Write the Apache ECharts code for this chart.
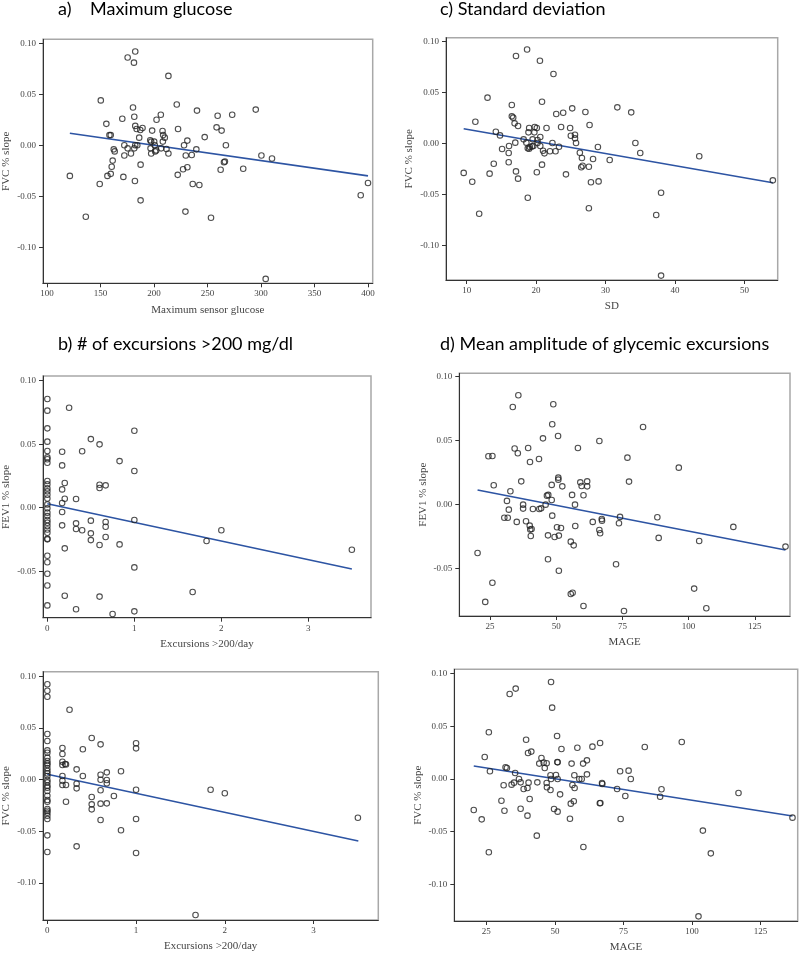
<!DOCTYPE html>
<html><head><meta charset="utf-8">
<script src="https://cdn.jsdelivr.net/npm/echarts@6/dist/echarts.min.js"></script>
<style>html,body{margin:0;padding:0;background:#fff}#c{width:800px;height:954px}</style>
</head><body><div id="c"></div><script>
// ---- a) Maximum glucose vs FVC % slope
var aX = [121.4,136.3,150.3,149.3,155.5,156.5,158.4,159.6,159.6,160.5,
  161.4,162.4,163.3,170.4,171.4,172.3,172.3,175.4,175.4,178.5,
  180.4,181.3,181.6,182.5,182.5,182.2,181.6,182.5,183.8,184.4,
  186.2,187.2,187.5,187.5,189.3,196.5,196.8,197.4,198.3,197.4,
  200.2,200.8,201.1,202.4,202.1,206.4,206.7,208.0,208.6,208.3,
  210.1,211.7,213.5,213.5,221.3,222.5,222.2,227.2,228.1,229.4,
  229.7,231.2,231.2,235.3,236.2,239.6,240.2,242.4,247.4,253.3,
  258.5,259.5,262.3,263.2,265.4,266.3,267.2,273.1,283.4,295.1,
  300.4,304.4,310.3,393.2,400.0];
var aY = [-0.030,-0.070,0.044,-0.038,0.021,-0.030,0.010,0.010,-0.028,-0.021,
  -0.015,-0.004,-0.006,0.026,-0.031,0.000,-0.010,0.086,-0.003,-0.008,
  0.037,0.081,0.028,0.092,0.019,-0.035,-0.003,0.000,0.016,0.000,
  0.0075,0.015,-0.019,-0.054,0.017,0.005,-0.003,0.0036,0.0144,-0.008,
  0.0036,0,-0.006,0.025,-0.005,0.030,-0.003,0.014,0.010,0.0036,
  0.0075,-0.0036,0.068,-0.008,0.040,0.016,-0.029,-0.0235,0,-0.065,
  -0.010,0.0046,-0.0216,-0.0095,-0.038,-0.004,0.034,-0.039,0.008,-0.071,
  0.0176,0.029,-0.024,0.0144,-0.0167,-0.016,0,0.030,-0.023,0.035,
  -0.010,-0.131,-0.013,-0.049,-0.037];
var aFitX = [121.4, 400];
var aFitY = [0.0118, -0.030];

// ---- c) Standard deviation vs FVC % slope
var cX = [9.57,10.8,11.25,11.8,13.0,13.3,13.9,14.2,14.8,15.1,
  16.05,16.1,16.05,16.5,16.5,16.7,16.9,17.0,17.1,17.1,
  17.4,17.4,18.2,18.6,18.7,18.8,18.9,19.0,18.8,19.0,
  19.1,19.4,19.5,19.6,19.75,19.8,20.1,20.1,20.2,20.2,
  20.55,20.6,20.6,20.85,20.85,21.0,21.2,21.5,22.0,22.35,
  22.5,22.8,22.9,23.3,23.6,23.9,24.3,24.9,25.0,25.2,
  25.6,25.6,25.75,26.3,26.5,26.6,26.7,27.1,27.6,27.6,
  27.7,27.9,28.2,28.9,29.0,30.6,31.7,33.7,34.3,35.0,
  37.3,38.0,38.0,43.5,54.1];
var cY = [-0.029,-0.0376,0.0212,-0.069,0.0448,-0.0297,-0.020,0.0114,0.0078,-0.0056,
  -0.0095,-0.0026,-0.0186,0.0376,0.0265,0.0252,0.0196,0.0007,0.0856,-0.0275,
  0.017,-0.0346,0.0039,0.0007,0.092,-0.0533,0.0108,0.015,-0.0049,-0.0052,
  -0.0036,-0.003,0.0039,-0.0026,0.0108,0.016,0.015,-0.0284,0.0033,0.0003,
  0.081,0.0062,-0.0026,0.0408,-0.0209,-0.0072,-0.0098,0.015,-0.0078,0.0003,
  0.068,-0.0078,0.0288,-0.0033,0.016,0.030,-0.0304,0.015,0.0075,0.0343,
  0.0085,0.0049,0.0003,-0.0092,-0.0235,-0.0144,-0.0219,0.0307,-0.0229,-0.0637,
  0.018,-0.0382,-0.0154,-0.0036,-0.0373,-0.0163,0.0353,0.0304,0.0003,-0.0095,
  -0.0703,-0.0484,-0.1297,-0.0127,-0.0363];
var cFitX = [9.57, 54.1];
var cFitY = [0.0144, -0.0386];

// ---- b) Excursions >200/day vs FEV1 % slope
var bX = [0,0,0,0,0,0,0,0,0,0, 0,0,0,0,0,0,0,0,0,0, 0,0,0,0,0,0,0,0,0,0,
  0.17,0.17,0.17,0.17,0.17,0.17, 0.2,0.2,0.2,0.2, 0.25,
  0.33,0.33,0.33,0.33, 0.4,0.4, 0.5,0.5,0.5,0.5,
  0.6,0.6,0.6,0.6,0.6, 0.67,0.67,0.67,0.67, 0.75, 0.83,0.83,
  1,1,1,1,1, 1.67,1.83,2.0,3.5];
var bY = [0.0856,0.0764,0.0625,0.052,0.0446,0.0396,0.0381,0.0354,0.021,0.0184,
  0.0152,0.0129,0.0102,0.0073,0.0026,-0.0005,-0.0039,-0.0066,-0.0097,-0.0118,
  -0.0144,-0.0171,-0.0197,-0.0244,-0.0249,-0.0378,-0.043,-0.052,-0.0612,-0.0769,
  0.044,0.0333,0.0144,0.0037,-0.0034,-0.0139, 0.0194,0.0071,-0.032,-0.0693, 0.0787,
  0.0068,-0.0123,-0.0168,-0.080, 0.0444,-0.0178, 0.054,-0.0102,-0.0202,-0.0255,
  0.0499,0.0181,0.0155,-0.0294,-0.070, 0.0176,-0.0113,-0.015,-0.0231, -0.0837, 0.0367,-0.0289,
  0.0606,0.0289,-0.0097,-0.047,-0.0816, -0.0664,-0.0262,-0.0178,-0.0331];
var bFitX = [0, 3.5];
var bFitY = [0.0031, -0.0483];

// ---- d) MAGE vs FEV1 % slope
var dX = [20.3,23.2,24.4,25.9,25.9,26.4,30.4,31.4,31.7,32.1,
  32.7,33.6,34.3,35.1,35.5,35.7,36.8,37.5,37.5,38.6,
  39.4,40.0,40.1,40.2,40.4,40.7,41.2,43.5,43.6,44.3,
  45.0,46.0,46.5,47.0,46.9,46.9,48.3,48.3,48.5,48.5,
  48.9,49.4,50.3,50.7,50.8,50.8,51.0,51.0,51.8,52.3,
  55.5,55.5,56.0,56.2,56.6,57.1,57.2,58.2,59.1,59.6,
  60.3,60.3,61.7,61.7,63.8,66.3,66.3,66.6,67.2,67.3,
  72.6,73.7,74.1,75.6,76.9,77.5,82.8,88.2,88.7,96.3,
  102.1,104.0,106.7,116.9,136.6];
var dY = [-0.0378,-0.076,0.0378,0.038,-0.061,0.0151,-0.0102,0.0029,-0.0102,-0.0039,
  0.0104,0.0763,0.0438,-0.0135,0.0401,0.0854,0.0182,0,-0.0031,-0.013,
  0.0443,-0.0164,0.0333,-0.0195,-0.0245,-0.019,-0.0034,0.0357,-0.0034,-0.0029,
  0.0518,0,0.007,0.0076,-0.024,-0.0427,0.0154,0.0036,0.0628,-0.0086,
  0.0784,-0.0253,-0.0177,0.0536,0.0211,0.0195,-0.0242,-0.0516,-0.0182,0.0143,
  -0.0289,-0.0698,0.0076,-0.0688,-0.0318,0,-0.0167,0.0443,0.0174,0.0146,
  0.0073,-0.0792,0.0182,0.0143,-0.0135,0.0497,-0.0198,-0.0224,-0.0112,-0.0125,
  -0.0466,-0.0146,-0.0096,-0.0831,0.0367,0.018,0.0607,-0.0099,-0.026,0.0289,
  -0.0656,-0.0284,-0.081,-0.0174,-0.0328];
var dFitX = [20.3, 136.6];
var dFitY = [0.0115, -0.0354];

// ---- (bottom left) Excursions >200/day vs FVC % slope
var eX = [0,0,0,0,0,0,0,0,0,0, 0,0,0,0,0,0,0,0,0,0, 0,0,0,0,0,0,0,0,0,0,
  0.17,0.17,0.17,0.17,0.17,0.17,0.17, 0.2,0.21,0.21,0.21, 0.25,
  0.33,0.33,0.33,0.33, 0.4,0.4, 0.5,0.5,0.5,0.5,
  0.6,0.6,0.6,0.6,0.6,0.6, 0.67,0.67,0.67,0.67, 0.75, 0.83,0.83,
  1,1,1,1,1, 1.67,1.84,2.0,3.5];
var eY = [0.0923,0.0861,0.0803,0.0442,0.0374,0.0284,0.0261,0.0213,0.0181,0.0158,
  0.0142,0.011,0.0084,0.0061,0.0035,-0.0003,-0.0026,-0.0058,-0.0077,-0.011,
  -0.0155,-0.0197,-0.0213,-0.0284,-0.030,-0.0319,-0.0348,-0.0381,-0.0539,-0.070,
  0.0306,0.0248,0.0174,0.0142,0.0035,-0.001,-0.0052, 0.0152,0.0148,-0.0052,-0.0213, 0.0677,
  0.010,-0.0039,-0.0084,-0.0645, 0.0294,0.0035, 0.0403,-0.0168,-0.0239,-0.0287,
  0.0342,0.0048,0,-0.0103,-0.0232,-0.039, 0.0071,-0.0003,-0.0035,-0.0229, -0.0158, 0.0081,-0.049,
  0.0352,0.0303,-0.0097,-0.0381,-0.071, -0.131,-0.0097,-0.0132,-0.0368];
var eFitX = [0, 3.505];
var eFitY = [0.0052, -0.0594];

// ---- (bottom right) MAGE vs FVC % slope
var fX = [20.4,23.3,24.4,25.9,25.9,26.3,30.5,31.3,31.6,32.0,
  32.5,33.5,34.2,35.1,35.5,35.7,36.9,37.5,37.5,38.6,
  39.5,40.0,40.0,40.2,40.4,40.8,41.4,43.6,43.4,44.3,
  45.1,45.9,46.3,47.0,47.0,47.1,48.4,48.4,48.6,48.6,
  49.0,49.7,50.4,50.8,50.9,51.0,51.0,51.0,51.9,52.4,
  55.5,55.8,56.1,56.4,56.9,57.1,57.2,58.2,58.9,59.8,
  60.3,60.4,61.7,61.7,63.7,66.4,66.6,66.5,67.2,67.3,
  72.7,73.8,74.0,75.7,76.9,77.7,82.8,88.4,88.9,96.3,
  102.4,104.0,106.9,117.0,136.7];
var fY = [-0.0294,-0.0383,0.0209,0.0443,-0.0696,0.0073,-0.0206,-0.006,-0.0301,0.0111,
  0.0104,0.0807,-0.0054,-0.0035,0.0057,0.0858,0,-0.0032,-0.0282,-0.0095,
  0.0373,-0.0085,-0.0348,0.0247,-0.0035,-0.019,0.026,-0.0032,-0.0538,0.0146,
  0.0199,0.0155,0.0104,0.0149,-0.0038,-0.0079,0.0035,-0.0104,0,0.0921,
  0.0677,-0.0285,0.0038,0.0408,0.0161,0.0158,0,-0.031,-0.0146,0.0285,
  -0.0377,-0.0234,0.0146,-0.0057,-0.0212,0.0035,-0.0085,0.0297,0,0,
  0.0146,-0.0646,0.0177,0.0044,0.0307,-0.0231,-0.0228,0.0342,-0.0038,-0.0047,
  -0.0095,0.0073,-0.038,-0.0161,0.0079,0,0.0304,-0.0168,-0.0098,0.0351,
  -0.1304,-0.049,-0.0706,-0.0133,-0.0367];
var fFitX = [20.4, 136.7];
var fFitY = [0.0123, -0.0351];

// tick labels
var yTicks = [-0.10, -0.05, 0.00, 0.05, 0.10];
var glucoseTicks = [100, 150, 200, 250, 300, 350, 400];
var sdTicks = [10, 20, 30, 40, 50];
var excTicks = [0, 1, 2, 3];
var mageTicks = [25, 50, 75, 100, 125];

function pairs(xs, ys){ return xs.map(function(x,i){ return [x, ys[i]]; }); }

var panels = [
  {x:aX, y:aY, fx:aFitX, fy:aFitY, xt:glucoseTicks, xn:'Maximum sensor glucose', yn:'FVC % slope',
   g:{left:41.7, top:39.3, width:331, height:244}, xr:[96.3,404.4], yr:[-0.1353,0.1039]},
  {x:cX, y:cY, fx:cFitX, fy:cFitY, xt:sdTicks, xn:'SD', yn:'FVC % slope',
   g:{left:446, top:37.7, width:331.7, height:242.3}, xr:[7.02,54.8], yr:[-0.134,0.1036]},
  {x:bX, y:bY, fx:bFitX, fy:bFitY, xt:excTicks, xn:'Excursions >200/day', yn:'FEV1 % slope',
   g:{left:41.7, top:376, width:329.3, height:241.7}, xr:[-0.05,3.72], yr:[-0.0866,0.1037]},
  {x:dX, y:dY, fx:dFitX, fy:dFitY, xt:mageTicks, xn:'MAGE', yn:'FEV1 % slope',
   g:{left:459.3, top:373.3, width:330.7, height:242.7}, xr:[13.4,138.3], yr:[-0.087,0.1026]},
  {x:eX, y:eY, fx:eFitX, fy:eFitY, xt:excTicks, xn:'Excursions >200/day', yn:'FVC % slope',
   g:{left:41.7, top:671.7, width:336.6, height:248.3}, xr:[-0.049,3.73], yr:[-0.1358,0.1045]},
  {x:fX, y:fY, fx:fFitX, fy:fFitY, xt:mageTicks, xn:'MAGE', yn:'FVC % slope',
   g:{left:454.3, top:669.3, width:343.4, height:251.7}, xr:[13.3,138.6], yr:[-0.1348,0.1041]}
];

var SERIF = '"Liberation Serif","DejaVu Serif",serif';
var grid=[], xAxis=[], yAxis=[], series=[];
panels.forEach(function(p, i){
  grid.push({left:p.g.left, top:p.g.top, width:p.g.width, height:p.g.height,
    show:true, borderColor:'#a8a8a8', borderWidth:1.5, backgroundColor:'#fff'});
  xAxis.push({type:'value', gridIndex:i, min:p.xr[0], max:p.xr[1],
    name:p.xn, nameLocation:'middle', nameGap:21,
    nameTextStyle:{fontFamily:SERIF, fontSize:11, color:'#444'},
    axisLine:{show:true, onZero:false, lineStyle:{color:'#333', width:1}},
    axisTick:{show:true, length:4, customValues:p.xt, lineStyle:{color:'#333'}},
    axisLabel:{customValues:p.xt, margin:6, fontFamily:SERIF, fontSize:9, color:'#444'},
    splitLine:{show:false}});
  yAxis.push({type:'value', gridIndex:i, min:p.yr[0], max:p.yr[1],
    name:p.yn, nameLocation:'middle', nameGap:31,
    nameTextStyle:{fontFamily:SERIF, fontSize:11, color:'#444'},
    axisLine:{show:true, onZero:false, lineStyle:{color:'#333', width:1}},
    axisTick:{show:true, length:4, customValues:yTicks, lineStyle:{color:'#333'}},
    axisLabel:{customValues:yTicks, margin:7, fontFamily:SERIF, fontSize:9, color:'#444',
      formatter:function(v){ return (Math.abs(v)<1e-9?0:v).toFixed(2); }},
    splitLine:{show:false}});
  series.push({type:'line', xAxisIndex:i, yAxisIndex:i, data:pairs(p.fx, p.fy),
    symbol:'none', lineStyle:{color:'#2d54a3', width:1.6}, z:3, silent:true});
  series.push({type:'scatter', xAxisIndex:i, yAxisIndex:i, data:pairs(p.x, p.y),
    symbol:'circle', symbolSize:5.5,
    itemStyle:{color:'rgba(0,0,0,0)', borderColor:'#222', borderWidth:1.1}, z:4});
});

var TF = 'Lato, "Open Sans", sans-serif';
var ts = {fontFamily:TF, fontSize:18, fontWeight:'normal', color:'#000'};
var title = [
  {text:'a)', left:53, top:-5, textStyle:ts},
  {text:'Maximum glucose', left:85, top:-5, textStyle:ts},
  {text:'c) Standard deviation', left:435, top:-5, textStyle:ts},
  {text:'b) # of excursions >200 mg/dl', left:53, top:330, textStyle:ts},
  {text:'d) Mean amplitude of glycemic excursions', left:435, top:330, textStyle:ts}
];

var chart = echarts.init(document.getElementById('c'), null, {renderer:'canvas'});
chart.setOption({animation:false, backgroundColor:'#fff', title:title,
  grid:grid, xAxis:xAxis, yAxis:yAxis, series:series});
</script></body></html>
